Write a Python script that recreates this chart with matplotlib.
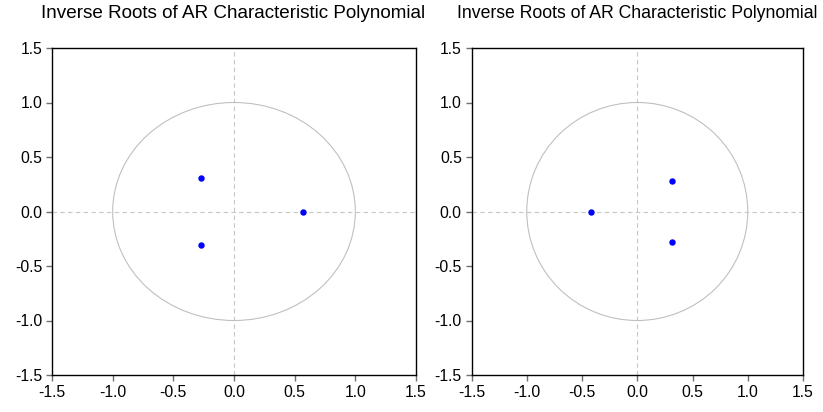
"""Inverse roots of AR characteristic polynomial, two panels."""

import matplotlib

matplotlib.use("Agg")
import matplotlib.pyplot as plt
from matplotlib.patches import Circle

plt.rcParams["font.family"] = ["Liberation Sans", "DejaVu Sans"]

TITLE = "Inverse Roots of AR Characteristic Polynomial"
TICKS = [-1.5, -1.0, -0.5, 0.0, 0.5, 1.0, 1.5]
TICK_LABELS = ["-1.5", "-1.0", "-0.5", "0.0", "0.5", "1.0", "1.5"]

# inverse roots (real, imaginary)
left_re = [-0.275, -0.275, 0.57]
left_im = [0.31, -0.31, 0.0]
right_re = [-0.415, 0.31, 0.31]
right_im = [0.0, 0.28, -0.28]


def draw_panel(ax, re, im):
    ax.set_xlim(-1.5, 1.5)
    ax.set_ylim(-1.5, 1.5)
    ax.axhline(0, color="#c8c8c8", linewidth=0.8, linestyle=(0, (4, 3)), zorder=1)
    ax.axvline(0, color="#c8c8c8", linewidth=0.8, linestyle=(0, (4, 3)), zorder=1)
    ax.add_patch(Circle((0, 0), 1.0, fill=False, edgecolor="#c0c0c0", linewidth=0.8, zorder=1))
    ax.plot(re, im, linestyle="none", marker="o", markersize=3.6, color="#0000ff", zorder=3)
    ax.set_xticks(TICKS)
    ax.set_xticklabels(TICK_LABELS)
    ax.set_yticks(TICKS)
    ax.set_yticklabels(TICK_LABELS)
    ax.tick_params(direction="out", length=4.5, width=1, color="#707070", labelsize=11.3, pad=2.5)
    for spine in ax.spines.values():
        spine.set_linewidth(1.0)
        spine.set_color("black")


fig = plt.figure(figsize=(8.23, 4.12), dpi=100)
W, H = 823.0, 412.0

ax1 = fig.add_axes([52 / W, 1 - 375 / H, 364 / W, 327 / H])
ax2 = fig.add_axes([471.5 / W, 1 - 375 / H, 331.5 / W, 327 / H])

draw_panel(ax1, left_re, left_im)
draw_panel(ax2, right_re, right_im)

fig.text(233.5 / W, 1 - 13 / H, TITLE, ha="center", va="center", fontsize=13.6)
fig.text(637.5 / W, 1 - 13 / H, TITLE, ha="center", va="center", fontsize=12.7)

fig.savefig("out.png", dpi=100)
plt.close(fig)
